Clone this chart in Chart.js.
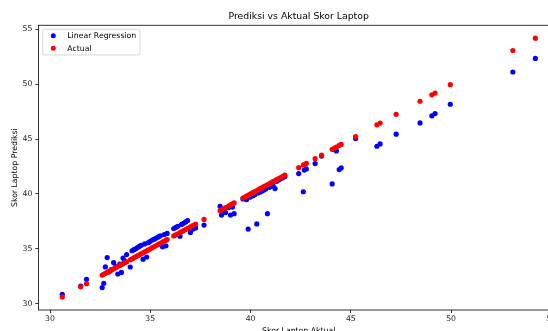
<!DOCTYPE html>
<html>
<head>
<meta charset="utf-8">
<script src="https://cdn.jsdelivr.net/npm/chart.js@4.4.0/dist/chart.umd.min.js"></script>
<style>
	html, body { margin: 0; padding: 0; background: #fff; overflow: hidden; }
	#wrap { width: 600px; height: 345px; }
</style>
</head>
<body>
<div id="wrap"><canvas id="grafikSkor" width="600" height="345"></canvas></div>
<script>
// nilai skor aktual (sumbu x) dan hasil prediksi regresi linear
const aktual = [
	30.61, 31.53, 31.82,
	32.60, 32.68, 32.76, 32.85, 32.95, 33.05, 33.17, 33.28, 33.38, 33.48,
	33.56, 33.64, 33.72, 33.82, 34.00, 34.09, 34.18, 34.27, 34.36, 34.45,
	34.54, 34.64, 34.72, 34.82, 34.90, 35.00, 35.10, 35.20, 35.30, 35.40,
	35.50, 35.61, 35.70, 35.78, 35.84,
	36.17, 36.27, 36.37, 36.48, 36.56, 36.66, 36.76, 36.86, 37.00, 37.13, 37.26, 37.68,
	38.48, 38.55, 38.65, 38.75, 38.90, 39.00, 39.10, 39.18,
	39.62, 39.70, 39.80, 39.88, 39.96, 40.05, 40.14, 40.22, 40.31, 40.40,
	40.48, 40.57, 40.66, 40.75, 40.84, 40.93, 41.02, 41.12, 41.22, 41.30,
	41.40, 41.50, 41.60, 41.71,
	42.40, 42.63, 42.68, 42.78, 43.22, 43.54, 44.07, 44.18, 44.28, 44.42,
	44.52, 45.24, 46.30, 46.46, 47.26, 48.45, 49.04, 49.20, 49.96, 53.08, 54.20,
];

const prediksi = [
	30.85, 31.60, 32.22,
	31.46, 31.86, 33.35, 34.20, 32.90, 33.10, 33.74, 33.40, 32.70, 33.60,
	32.85, 34.15, 33.90, 34.47, 33.34, 34.82, 34.92, 35.00, 35.12, 35.22,
	35.32, 34.05, 35.44, 34.25, 35.56, 35.68, 35.80, 35.88, 35.98, 36.08,
	36.18, 35.18, 36.30, 35.27, 36.40,
	36.85, 36.95, 37.05, 36.15, 37.22, 37.33, 37.45, 37.58, 36.49, 36.80, 36.90, 37.16,
	38.88, 38.07, 38.45, 38.30, 38.75, 38.07, 38.80, 38.20,
	39.55, 39.58, 39.49, 36.80, 39.70, 39.80, 39.86, 39.95, 37.27, 40.10,
	40.18, 40.26, 40.35, 40.45, 38.20, 40.60, 40.70, 40.80, 40.49, 41.15,
	41.28, 41.38, 41.48, 41.58,
	41.86, 40.20, 42.18, 42.28, 42.77, 43.45, 40.91, 44.05, 43.92, 42.22,
	42.37, 45.05, 44.35, 44.56, 45.45, 46.48, 47.12, 47.33, 48.18, 51.12, 52.36,
];

const labelSeri = ['Linear Regression', 'Actual'];
const tickNilai = [30, 35, 40, 45, 50, 55];

Chart.defaults.font.family = "'DejaVu Sans', sans-serif";

// kotak sumbu penuh (seperti spine matplotlib)
const bingkai = {
	id: 'bingkai',
	afterDatasetsDraw(chart) {
		const { ctx, chartArea: a } = chart;
		ctx.save();
		ctx.strokeStyle = '#000';
		ctx.lineWidth = 0.8;
		ctx.strokeRect(a.left, a.top, a.right - a.left, a.bottom - a.top);
		ctx.restore();
	},
};

// legenda di pojok kiri atas area plot
const legendaKotak = {
	id: 'legendaKotak',
	afterDraw(chart) {
		const { ctx, chartArea: a } = chart;
		const x = a.left + 4.3;
		const y = a.top + 4;
		ctx.save();
		ctx.fillStyle = 'rgba(255,255,255,0.8)';
		ctx.strokeStyle = '#cccccc';
		ctx.lineWidth = 0.8;
		ctx.beginPath();
		ctx.roundRect(x, y, 97.3, 25.7, 2);
		ctx.fill();
		ctx.stroke();
		ctx.font = "7.75px 'DejaVu Sans'";
		ctx.textBaseline = 'middle';
		chart.data.datasets.forEach((ds, i) => {
			const yy = y + 6.4 + i * 12.6;
			ctx.fillStyle = ds.backgroundColor;
			ctx.beginPath();
			ctx.arc(x + 10.6, yy, 2.5, 0, Math.PI * 2);
			ctx.fill();
			ctx.fillStyle = '#000';
			ctx.fillText(ds.label, x + 24.6, yy + 0.5);
		});
		ctx.restore();
	},
};

document.addEventListener('DOMContentLoaded', () => {
	new Chart(document.getElementById('grafikSkor'), {
		type: 'scatter',
		data: {
			datasets: [
				{
					label: labelSeri[0],
					data: aktual.map((v, i) => ({ x: v, y: prediksi[i] })),
					backgroundColor: '#0000ff',
					borderWidth: 0,
					pointRadius: 2.6,
					order: 1,
				},
				{
					label: labelSeri[1],
					data: aktual.map(v => ({ x: v, y: v })),
					backgroundColor: '#ff0000',
					borderWidth: 0,
					pointRadius: 2.6,
					order: 0,
				},
			],
		},
		options: {
			responsive: false,
			animation: false,
			events: [],
			layout: {
				padding: { left: 0, right: 41, top: 0, bottom: 0 },
			},
			plugins: {
				legend: { display: false },
				tooltip: { enabled: false },
				title: {
					display: true,
					fullSize: false,
					text: 'Prediksi vs Aktual Skor Laptop',
					color: '#000',
					font: { size: 9.3, weight: 'normal' },
					padding: { top: 11.1, bottom: 3 },
				},
			},
			scales: {
				x: {
					type: 'linear',
					min: 29.42,
					max: 55.38,
					afterBuildTicks: s => { s.ticks = tickNilai.map(v => ({ value: v })); },
					afterFit: s => { s.height = 35; },
					title: {
						display: true,
						text: 'Skor Laptop Aktual',
						color: '#000',
						font: { size: 7.75 },
						padding: { top: 0, bottom: 9.3 },
					},
					ticks: {
						color: '#222',
						font: { size: 7.75 },
						padding: 1.5,
						maxRotation: 0,
					},
					grid: {
						drawOnChartArea: false,
						drawTicks: true,
						tickLength: 3,
						color: '#000',
						lineWidth: 0.8,
					},
					border: { display: false },
				},
				y: {
					type: 'linear',
					min: 29.42,
					max: 55.38,
					afterBuildTicks: s => { s.ticks = tickNilai.map(v => ({ value: v })); },
					afterFit: s => { s.width = 38.4; },
					title: {
						display: true,
						text: 'Skor Laptop Prediksi',
						color: '#000',
						font: { size: 7.75 },
						padding: { top: 10, bottom: 0 },
					},
					ticks: {
						color: '#222',
						font: { size: 7.75 },
						padding: 3,
					},
					grid: {
						drawOnChartArea: false,
						drawTicks: true,
						tickLength: 3,
						color: '#000',
						lineWidth: 0.8,
					},
					border: { display: false },
				},
			},
		},
		plugins: [bingkai, legendaKotak],
	});
});
</script>
</body>
</html>
